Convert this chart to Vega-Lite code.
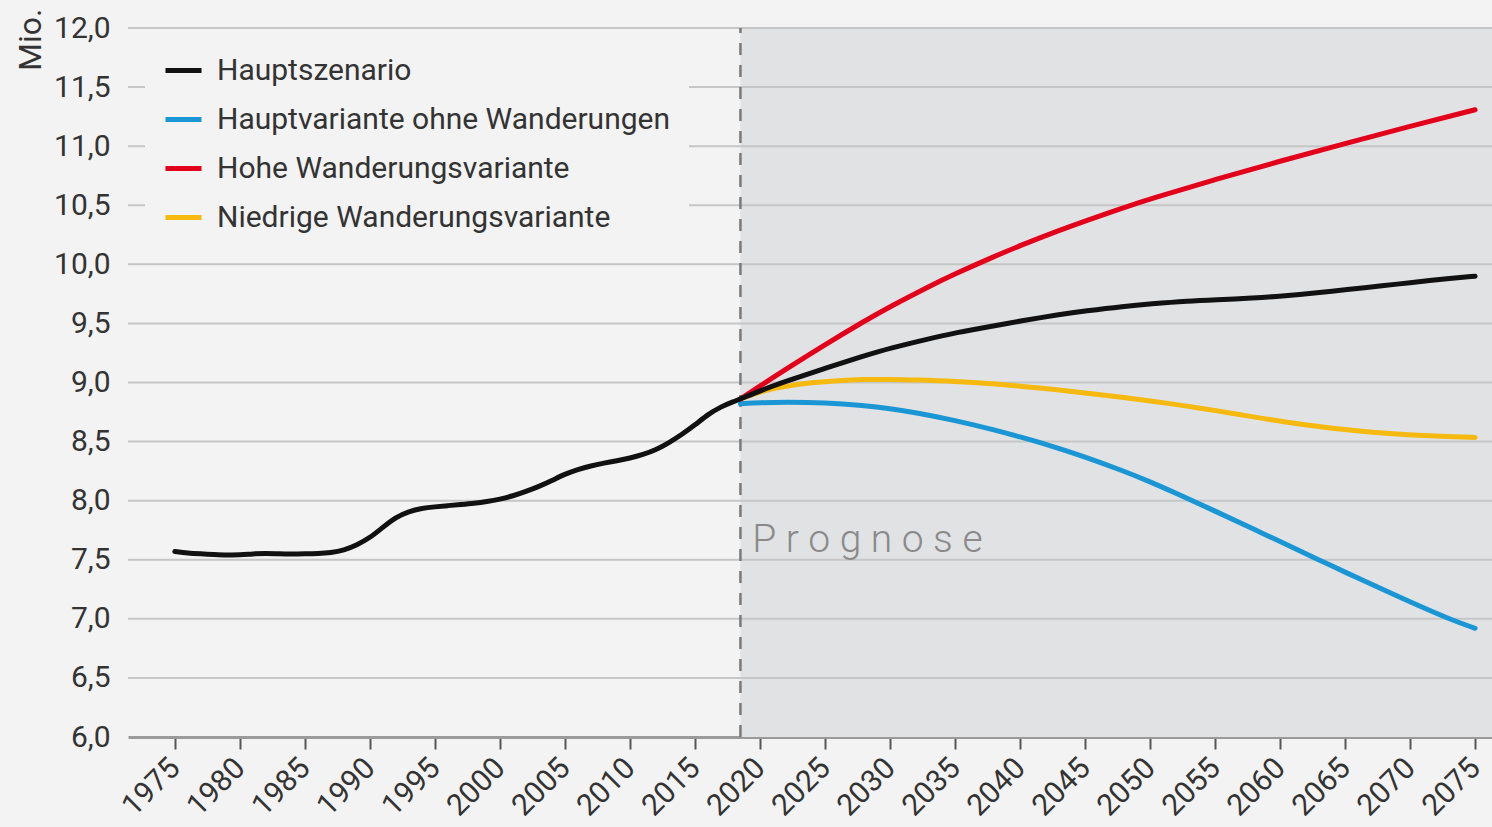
{
  "$schema": "https://vega.github.io/schema/vega-lite/v6.json",
  "width": 1364,
  "height": 709,
  "autosize": "none",
  "padding": {"left": 128, "top": 28, "right": 0, "bottom": 90},
  "background": "#f3f3f3",
  "config": {
    "font": "Roboto, sans-serif",
    "view": {"stroke": null}
  },
  "datasets": {
    "prognose": [{"von": 2018.5, "bis": 2076.3, "unten": 6, "oben": 12}],
    "gitter": [{"wert": 6.5}, {"wert": 7.0}, {"wert": 7.5}, {"wert": 8.0}, {"wert": 8.5}, {"wert": 9.0}, {"wert": 9.5}, {"wert": 10.0}, {"wert": 10.5}, {"wert": 11.0}, {"wert": 11.5}, {"wert": 12.0}],
    "label": [{"jahr": 2019.4, "wert": 7.67, "text": "P r o g n o s e"}],
    "bevoelkerung": [
      {"jahr": 2018.5, "wert": 8.82, "variante": "Hauptvariante ohne Wanderungen"},
      {"jahr": 2020, "wert": 8.83, "variante": "Hauptvariante ohne Wanderungen"},
      {"jahr": 2022, "wert": 8.835, "variante": "Hauptvariante ohne Wanderungen"},
      {"jahr": 2025, "wert": 8.83, "variante": "Hauptvariante ohne Wanderungen"},
      {"jahr": 2028, "wert": 8.805, "variante": "Hauptvariante ohne Wanderungen"},
      {"jahr": 2030, "wert": 8.78, "variante": "Hauptvariante ohne Wanderungen"},
      {"jahr": 2032, "wert": 8.745, "variante": "Hauptvariante ohne Wanderungen"},
      {"jahr": 2035, "wert": 8.68, "variante": "Hauptvariante ohne Wanderungen"},
      {"jahr": 2038, "wert": 8.6, "variante": "Hauptvariante ohne Wanderungen"},
      {"jahr": 2040, "wert": 8.54, "variante": "Hauptvariante ohne Wanderungen"},
      {"jahr": 2042, "wert": 8.478, "variante": "Hauptvariante ohne Wanderungen"},
      {"jahr": 2045, "wert": 8.372, "variante": "Hauptvariante ohne Wanderungen"},
      {"jahr": 2048, "wert": 8.25, "variante": "Hauptvariante ohne Wanderungen"},
      {"jahr": 2050, "wert": 8.16, "variante": "Hauptvariante ohne Wanderungen"},
      {"jahr": 2052, "wert": 8.063, "variante": "Hauptvariante ohne Wanderungen"},
      {"jahr": 2055, "wert": 7.912, "variante": "Hauptvariante ohne Wanderungen"},
      {"jahr": 2058, "wert": 7.757, "variante": "Hauptvariante ohne Wanderungen"},
      {"jahr": 2060, "wert": 7.654, "variante": "Hauptvariante ohne Wanderungen"},
      {"jahr": 2063, "wert": 7.498, "variante": "Hauptvariante ohne Wanderungen"},
      {"jahr": 2065, "wert": 7.395, "variante": "Hauptvariante ohne Wanderungen"},
      {"jahr": 2068, "wert": 7.243, "variante": "Hauptvariante ohne Wanderungen"},
      {"jahr": 2070, "wert": 7.143, "variante": "Hauptvariante ohne Wanderungen"},
      {"jahr": 2073, "wert": 6.998, "variante": "Hauptvariante ohne Wanderungen"},
      {"jahr": 2075, "wert": 6.92, "variante": "Hauptvariante ohne Wanderungen"},
      {"jahr": 2018.5, "wert": 8.86, "variante": "Niedrige Wanderungsvariante"},
      {"jahr": 2020, "wert": 8.925, "variante": "Niedrige Wanderungsvariante"},
      {"jahr": 2022, "wert": 8.97, "variante": "Niedrige Wanderungsvariante"},
      {"jahr": 2024, "wert": 9.0, "variante": "Niedrige Wanderungsvariante"},
      {"jahr": 2026, "wert": 9.017, "variante": "Niedrige Wanderungsvariante"},
      {"jahr": 2028, "wert": 9.026, "variante": "Niedrige Wanderungsvariante"},
      {"jahr": 2030, "wert": 9.027, "variante": "Niedrige Wanderungsvariante"},
      {"jahr": 2032, "wert": 9.022, "variante": "Niedrige Wanderungsvariante"},
      {"jahr": 2035, "wert": 9.01, "variante": "Niedrige Wanderungsvariante"},
      {"jahr": 2038, "wert": 8.988, "variante": "Niedrige Wanderungsvariante"},
      {"jahr": 2040, "wert": 8.969, "variante": "Niedrige Wanderungsvariante"},
      {"jahr": 2043, "wert": 8.937, "variante": "Niedrige Wanderungsvariante"},
      {"jahr": 2045, "wert": 8.912, "variante": "Niedrige Wanderungsvariante"},
      {"jahr": 2048, "wert": 8.873, "variante": "Niedrige Wanderungsvariante"},
      {"jahr": 2050, "wert": 8.845, "variante": "Niedrige Wanderungsvariante"},
      {"jahr": 2053, "wert": 8.798, "variante": "Niedrige Wanderungsvariante"},
      {"jahr": 2055, "wert": 8.763, "variante": "Niedrige Wanderungsvariante"},
      {"jahr": 2058, "wert": 8.708, "variante": "Niedrige Wanderungsvariante"},
      {"jahr": 2060, "wert": 8.672, "variante": "Niedrige Wanderungsvariante"},
      {"jahr": 2063, "wert": 8.626, "variante": "Niedrige Wanderungsvariante"},
      {"jahr": 2065, "wert": 8.6, "variante": "Niedrige Wanderungsvariante"},
      {"jahr": 2068, "wert": 8.57, "variante": "Niedrige Wanderungsvariante"},
      {"jahr": 2070, "wert": 8.556, "variante": "Niedrige Wanderungsvariante"},
      {"jahr": 2073, "wert": 8.541, "variante": "Niedrige Wanderungsvariante"},
      {"jahr": 2075, "wert": 8.535, "variante": "Niedrige Wanderungsvariante"},
      {"jahr": 2018.5, "wert": 8.86, "variante": "Hohe Wanderungsvariante"},
      {"jahr": 2020, "wert": 8.97, "variante": "Hohe Wanderungsvariante"},
      {"jahr": 2022, "wert": 9.113, "variante": "Hohe Wanderungsvariante"},
      {"jahr": 2025, "wert": 9.32, "variante": "Hohe Wanderungsvariante"},
      {"jahr": 2028, "wert": 9.518, "variante": "Hohe Wanderungsvariante"},
      {"jahr": 2030, "wert": 9.642, "variante": "Hohe Wanderungsvariante"},
      {"jahr": 2033, "wert": 9.813, "variante": "Hohe Wanderungsvariante"},
      {"jahr": 2035, "wert": 9.919, "variante": "Hohe Wanderungsvariante"},
      {"jahr": 2038, "wert": 10.066, "variante": "Hohe Wanderungsvariante"},
      {"jahr": 2040, "wert": 10.158, "variante": "Hohe Wanderungsvariante"},
      {"jahr": 2043, "wert": 10.287, "variante": "Hohe Wanderungsvariante"},
      {"jahr": 2045, "wert": 10.367, "variante": "Hohe Wanderungsvariante"},
      {"jahr": 2048, "wert": 10.481, "variante": "Hohe Wanderungsvariante"},
      {"jahr": 2050, "wert": 10.553, "variante": "Hohe Wanderungsvariante"},
      {"jahr": 2055, "wert": 10.718, "variante": "Hohe Wanderungsvariante"},
      {"jahr": 2060, "wert": 10.873, "variante": "Hohe Wanderungsvariante"},
      {"jahr": 2065, "wert": 11.023, "variante": "Hohe Wanderungsvariante"},
      {"jahr": 2070, "wert": 11.168, "variante": "Hohe Wanderungsvariante"},
      {"jahr": 2075, "wert": 11.308, "variante": "Hohe Wanderungsvariante"},
      {"jahr": 1975, "wert": 7.57, "variante": "Hauptszenario"},
      {"jahr": 1976, "wert": 7.555, "variante": "Hauptszenario"},
      {"jahr": 1977, "wert": 7.55, "variante": "Hauptszenario"},
      {"jahr": 1978, "wert": 7.545, "variante": "Hauptszenario"},
      {"jahr": 1979, "wert": 7.54, "variante": "Hauptszenario"},
      {"jahr": 1980, "wert": 7.54, "variante": "Hauptszenario"},
      {"jahr": 1981, "wert": 7.55, "variante": "Hauptszenario"},
      {"jahr": 1982, "wert": 7.555, "variante": "Hauptszenario"},
      {"jahr": 1983, "wert": 7.55, "variante": "Hauptszenario"},
      {"jahr": 1984, "wert": 7.548, "variante": "Hauptszenario"},
      {"jahr": 1985, "wert": 7.55, "variante": "Hauptszenario"},
      {"jahr": 1986, "wert": 7.553, "variante": "Hauptszenario"},
      {"jahr": 1987, "wert": 7.56, "variante": "Hauptszenario"},
      {"jahr": 1988, "wert": 7.58, "variante": "Hauptszenario"},
      {"jahr": 1989, "wert": 7.625, "variante": "Hauptszenario"},
      {"jahr": 1990, "wert": 7.685, "variante": "Hauptszenario"},
      {"jahr": 1991, "wert": 7.775, "variante": "Hauptszenario"},
      {"jahr": 1992, "wert": 7.86, "variante": "Hauptszenario"},
      {"jahr": 1993, "wert": 7.91, "variante": "Hauptszenario"},
      {"jahr": 1994, "wert": 7.935, "variante": "Hauptszenario"},
      {"jahr": 1995, "wert": 7.948, "variante": "Hauptszenario"},
      {"jahr": 1996, "wert": 7.958, "variante": "Hauptszenario"},
      {"jahr": 1997, "wert": 7.968, "variante": "Hauptszenario"},
      {"jahr": 1998, "wert": 7.978, "variante": "Hauptszenario"},
      {"jahr": 1999, "wert": 7.992, "variante": "Hauptszenario"},
      {"jahr": 2000, "wert": 8.012, "variante": "Hauptszenario"},
      {"jahr": 2001, "wert": 8.04, "variante": "Hauptszenario"},
      {"jahr": 2002, "wert": 8.078, "variante": "Hauptszenario"},
      {"jahr": 2003, "wert": 8.12, "variante": "Hauptszenario"},
      {"jahr": 2004, "wert": 8.17, "variante": "Hauptszenario"},
      {"jahr": 2005, "wert": 8.225, "variante": "Hauptszenario"},
      {"jahr": 2006, "wert": 8.265, "variante": "Hauptszenario"},
      {"jahr": 2007, "wert": 8.295, "variante": "Hauptszenario"},
      {"jahr": 2008, "wert": 8.318, "variante": "Hauptszenario"},
      {"jahr": 2009, "wert": 8.338, "variante": "Hauptszenario"},
      {"jahr": 2010, "wert": 8.36, "variante": "Hauptszenario"},
      {"jahr": 2011, "wert": 8.39, "variante": "Hauptszenario"},
      {"jahr": 2012, "wert": 8.43, "variante": "Hauptszenario"},
      {"jahr": 2013, "wert": 8.49, "variante": "Hauptszenario"},
      {"jahr": 2014, "wert": 8.56, "variante": "Hauptszenario"},
      {"jahr": 2015, "wert": 8.64, "variante": "Hauptszenario"},
      {"jahr": 2016, "wert": 8.73, "variante": "Hauptszenario"},
      {"jahr": 2017, "wert": 8.795, "variante": "Hauptszenario"},
      {"jahr": 2018, "wert": 8.84, "variante": "Hauptszenario"},
      {"jahr": 2018.5, "wert": 8.86, "variante": "Hauptszenario"},
      {"jahr": 2020, "wert": 8.93, "variante": "Hauptszenario"},
      {"jahr": 2022, "wert": 9.01, "variante": "Hauptszenario"},
      {"jahr": 2025, "wert": 9.12, "variante": "Hauptszenario"},
      {"jahr": 2028, "wert": 9.225, "variante": "Hauptszenario"},
      {"jahr": 2030, "wert": 9.29, "variante": "Hauptszenario"},
      {"jahr": 2033, "wert": 9.37, "variante": "Hauptszenario"},
      {"jahr": 2035, "wert": 9.42, "variante": "Hauptszenario"},
      {"jahr": 2038, "wert": 9.48, "variante": "Hauptszenario"},
      {"jahr": 2040, "wert": 9.52, "variante": "Hauptszenario"},
      {"jahr": 2043, "wert": 9.575, "variante": "Hauptszenario"},
      {"jahr": 2045, "wert": 9.605, "variante": "Hauptszenario"},
      {"jahr": 2048, "wert": 9.645, "variante": "Hauptszenario"},
      {"jahr": 2050, "wert": 9.665, "variante": "Hauptszenario"},
      {"jahr": 2053, "wert": 9.69, "variante": "Hauptszenario"},
      {"jahr": 2055, "wert": 9.7, "variante": "Hauptszenario"},
      {"jahr": 2058, "wert": 9.715, "variante": "Hauptszenario"},
      {"jahr": 2060, "wert": 9.73, "variante": "Hauptszenario"},
      {"jahr": 2063, "wert": 9.76, "variante": "Hauptszenario"},
      {"jahr": 2065, "wert": 9.785, "variante": "Hauptszenario"},
      {"jahr": 2068, "wert": 9.82, "variante": "Hauptszenario"},
      {"jahr": 2070, "wert": 9.845, "variante": "Hauptszenario"},
      {"jahr": 2073, "wert": 9.88, "variante": "Hauptszenario"},
      {"jahr": 2075, "wert": 9.9, "variante": "Hauptszenario"}
    ]
  },
  "layer": [
    {
      "data": {"name": "prognose"},
      "mark": {"type": "rect", "color": "#e1e2e4"},
      "encoding": {
        "x": {"field": "von", "type": "quantitative"},
        "x2": {"field": "bis"},
        "y": {"field": "unten", "type": "quantitative"},
        "y2": {"field": "oben"}
      }
    },
    {
      "data": {"name": "gitter"},
      "mark": {"type": "rule", "color": "#c6c6c6", "strokeWidth": 2},
      "encoding": {
        "y": {"field": "wert", "type": "quantitative"}
      }
    },
    {
      "data": {"name": "prognose"},
      "mark": {"type": "rule", "color": "#7a7a7a", "strokeWidth": 2.5, "strokeDash": [12, 10]},
      "encoding": {
        "x": {"field": "von", "type": "quantitative"},
        "y": {"field": "unten", "type": "quantitative"},
        "y2": {"field": "oben"}
      }
    },
    {
      "data": {"name": "bevoelkerung"},
      "mark": {"type": "line", "interpolate": "basis", "strokeWidth": 5, "strokeCap": "round"},
      "encoding": {
        "x": {
          "field": "jahr",
          "type": "quantitative",
          "scale": {"domain": [1971.4, 2076.3], "nice": false, "zero": false},
          "axis": {
            "title": null,
            "values": [1975, 1980, 1985, 1990, 1995, 2000, 2005, 2010, 2015, 2020, 2025, 2030, 2035, 2040, 2045, 2050, 2055, 2060, 2065, 2070, 2075],
            "format": "d",
            "grid": false,
            "labelAngle": -45,
            "labelAlign": "right",
            "labelBaseline": "middle",
            "labelFontSize": 30,
            "labelColor": "#333333",
            "labelPadding": 14,
            "labelDx": 6,
            "labelOverlap": false,
            "labelBound": false,
            "labelFlush": false,
            "tickSize": 12,
            "tickWidth": 2,
            "tickColor": "#555555",
            "domainColor": "#9a9a9a",
            "domainWidth": 3
          }
        },
        "y": {
          "field": "wert",
          "type": "quantitative",
          "scale": {"domain": [6, 12], "nice": false, "zero": false},
          "axis": {
            "title": "Mio.",
            "titleAngle": -90,
            "titleAlign": "right",
            "titleBaseline": "top",
            "titleX": -113,
            "titleY": -20,
            "titleFontSize": 32,
            "titleFontWeight": "normal",
            "titleColor": "#333333",
            "values": [6, 6.5, 7, 7.5, 8, 8.5, 9, 9.5, 10, 10.5, 11, 11.5, 12],
            "labelExpr": "replace(format(datum.value, '.1f'), '.', ',')",
            "labelFontSize": 30,
            "labelColor": "#333333",
            "labelPadding": 18,
            "ticks": false,
            "domain": false,
            "grid": false
          }
        },
        "color": {
          "field": "variante",
          "type": "nominal",
          "scale": {
            "domain": ["Hauptszenario", "Hauptvariante ohne Wanderungen", "Hohe Wanderungsvariante", "Niedrige Wanderungsvariante"],
            "range": ["#111111", "#1a96d4", "#e2001a", "#f5b90f"]
          },
          "legend": {
            "title": null,
            "orient": "none",
            "legendX": 17,
            "legendY": 4,
            "padding": 18,
            "fillColor": "#f3f3f3",
            "symbolType": "stroke",
            "symbolSize": 1296,
            "symbolStrokeWidth": 5,
            "labelFontSize": 30,
            "labelColor": "#333333",
            "labelOffset": 13,
            "rowPadding": 13,
            "labelLimit": 600
          }
        }
      }
    },
    {
      "data": {"name": "label"},
      "mark": {"type": "text", "align": "left", "baseline": "middle", "fontSize": 39, "fontWeight": 300, "color": "#8a8a8a"},
      "encoding": {
        "x": {"field": "jahr", "type": "quantitative"},
        "y": {"field": "wert", "type": "quantitative"},
        "text": {"field": "text"}
      }
    }
  ]
}
